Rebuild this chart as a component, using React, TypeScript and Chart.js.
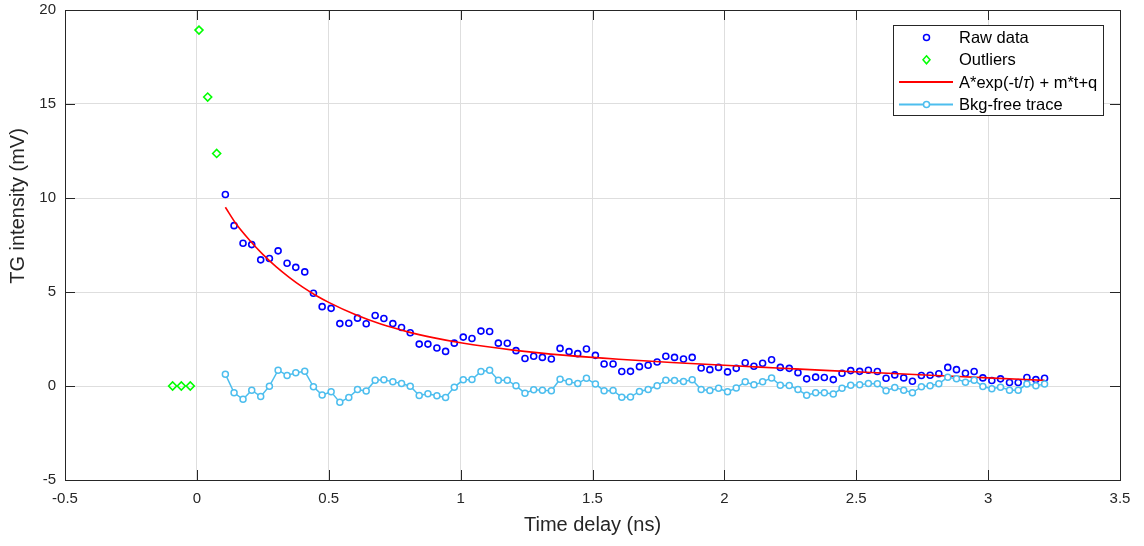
import React, { useEffect, useRef } from "react";
import { Chart, registerables } from "chart.js";

Chart.register(...registerables);

// ---------------- data ----------------
const xTickValues = [-0.5, 0, 0.5, 1, 1.5, 2, 2.5, 3, 3.5];
const yTickValues = [-5, 0, 5, 10, 15, 20];

const outlierTimes = [-0.092, -0.059, -0.025, 0.008, 0.041, 0.075];
const outlierValues = [0.0, 0.0, 0.0, 18.93, 15.37, 12.37];

const rawTimes = [
  0.108, 0.141, 0.175, 0.208, 0.242, 0.275, 0.308, 0.342, 0.375, 0.409,
  0.442, 0.475, 0.509, 0.542, 0.576, 0.609, 0.642, 0.676, 0.709, 0.743,
  0.776, 0.809, 0.843, 0.876, 0.91, 0.943, 0.976, 1.01, 1.043, 1.077,
  1.11, 1.143, 1.177, 1.21, 1.244, 1.277, 1.31, 1.344, 1.377, 1.411,
  1.444, 1.477, 1.511, 1.544, 1.578, 1.611, 1.644, 1.678, 1.711, 1.745,
  1.778, 1.811, 1.845, 1.878, 1.912, 1.945, 1.978, 2.012, 2.045, 2.079,
  2.112, 2.145, 2.179, 2.212, 2.246, 2.279, 2.312, 2.346, 2.379, 2.413,
  2.446, 2.479, 2.513, 2.546, 2.58, 2.613, 2.646, 2.68, 2.713, 2.747,
  2.78, 2.813, 2.847, 2.88, 2.914, 2.947, 2.98, 3.014, 3.047, 3.081,
  3.114, 3.147, 3.181, 3.214,
];

const rawValues = [
  10.19, 8.53, 7.59, 7.52, 6.71, 6.78, 7.19, 6.53, 6.31, 6.07,
  4.93, 4.22, 4.13, 3.32, 3.34, 3.61, 3.31, 3.75, 3.59, 3.32,
  3.11, 2.83, 2.23, 2.23, 2.02, 1.84, 2.28, 2.6, 2.53, 2.92,
  2.9, 2.28, 2.27, 1.88, 1.46, 1.58, 1.52, 1.44, 2.0, 1.83,
  1.72, 1.97, 1.63, 1.17, 1.17, 0.77, 0.78, 1.03, 1.1, 1.28,
  1.58, 1.52, 1.44, 1.52, 0.96, 0.87, 0.99, 0.75, 0.94, 1.24,
  1.05, 1.21, 1.4, 0.99, 0.94, 0.71, 0.38, 0.47, 0.45, 0.34,
  0.68, 0.82, 0.78, 0.84, 0.77, 0.41, 0.59, 0.43, 0.25, 0.56,
  0.57, 0.65, 0.99, 0.87, 0.68, 0.77, 0.43, 0.29, 0.38, 0.19,
  0.19, 0.45, 0.34, 0.41,
];

const bkgFreeValues = [
  0.63, -0.36, -0.71, -0.22, -0.56, -0.01, 0.84, 0.56, 0.7, 0.78,
  -0.04, -0.48, -0.31, -0.87, -0.61, -0.19, -0.27, 0.31, 0.33, 0.22,
  0.13, -0.01, -0.5, -0.41, -0.52, -0.61, -0.06, 0.33, 0.34, 0.77,
  0.84, 0.31, 0.31, 0.01, -0.38, -0.2, -0.22, -0.25, 0.36, 0.22,
  0.13, 0.41, 0.1, -0.25, -0.24, -0.6, -0.59, -0.29, -0.19, 0.01,
  0.31, 0.29, 0.24, 0.33, -0.19, -0.24, -0.12, -0.31, -0.1, 0.22,
  0.06, 0.22, 0.43, 0.04, 0.03, -0.19, -0.49, -0.36, -0.36, -0.42,
  -0.12, 0.04, 0.06, 0.13, 0.12, -0.25, -0.08, -0.22, -0.36, -0.04,
  0.01, 0.12, 0.47, 0.38, 0.2, 0.31, -0.03, -0.15, -0.06, -0.22,
  -0.22, 0.1, 0.01, 0.1,
];

const fitTimes = [
  0.108, 0.15, 0.2, 0.25, 0.3, 0.35, 0.4, 0.45, 0.5, 0.6, 0.7, 0.8, 0.9,
  1.0, 1.2, 1.4, 1.6, 1.8, 2.0, 2.2, 2.4, 2.6, 2.8, 3.0, 3.214,
];
const fitValues = [
  9.51, 8.6, 7.75, 7.0, 6.35, 5.78, 5.27, 4.83, 4.45, 3.8, 3.28, 2.88, 2.56,
  2.3, 1.91, 1.63, 1.42, 1.25, 1.1, 0.96, 0.82, 0.69, 0.56, 0.43, 0.3,
];

const seriesLabels = ["Raw data", "Outliers", "A*exp(-t/τ) + m*t+q", "Bkg-free trace"];
const xTitle = "Time delay (ns)";
const yTitle = "TG intensity (mV)";

// ---------------- styling ----------------
const FONT = "'Liberation Sans', Arial, Helvetica, sans-serif";
const AXIS_COLOR = "#262626";
const GRID_COLOR = "#dedede";
const TICK_LEN = 10;

const toPoints = (xs: number[], ys: number[]) => xs.map((x, i) => ({ x, y: ys[i] }));

const axesBoxPlugin = {
  id: "axesBox",
  afterDraw(chart: any) {
    const { ctx, chartArea } = chart;
    const { left, right, top, bottom } = chartArea;
    const xs = chart.scales.x;
    const ys = chart.scales.y;
    ctx.save();
    ctx.strokeStyle = AXIS_COLOR;
    ctx.lineWidth = 1;
    ctx.beginPath();
    xTickValues.forEach((v) => {
      const px = Math.round(xs.getPixelForValue(v)) + 0.5;
      ctx.moveTo(px, bottom);
      ctx.lineTo(px, bottom - TICK_LEN);
      ctx.moveTo(px, top);
      ctx.lineTo(px, top + TICK_LEN);
    });
    yTickValues.forEach((v) => {
      const py = Math.round(ys.getPixelForValue(v)) + 0.5;
      ctx.moveTo(left, py);
      ctx.lineTo(left + TICK_LEN, py);
      ctx.moveTo(right, py);
      ctx.lineTo(right - TICK_LEN, py);
    });
    ctx.stroke();
    ctx.strokeRect(Math.round(left) + 0.5, Math.round(top) + 0.5, Math.round(right - left), Math.round(bottom - top));

    // y-axis title (placed as in the reference, a little above the axis centre)
    ctx.translate(18, 206);
    ctx.rotate(-Math.PI / 2);
    ctx.fillStyle = AXIS_COLOR;
    ctx.font = `20px ${FONT}`;
    ctx.textAlign = "center";
    ctx.textBaseline = "middle";
    ctx.fillText(yTitle, 0, 0);
    ctx.restore();
  },
};

const boxLegendPlugin = {
  id: "boxLegend",
  afterDraw(chart: any) {
    const ctx = chart.ctx;
    const bx = 893.5, by = 25.5, bw = 210, bh = 90;
    ctx.save();
    ctx.fillStyle = "#ffffff";
    ctx.fillRect(bx, by, bw, bh);
    ctx.strokeStyle = AXIS_COLOR;
    ctx.lineWidth = 1;
    ctx.strokeRect(bx, by, bw, bh);
    const mx = 926.5;
    chart.data.datasets.forEach((ds: any, i: number) => {
      const cy = by + 12 + i * 22.3;
      const color = ds.borderColor;
      ctx.strokeStyle = color;
      if (ds.type === "line") {
        ctx.lineWidth = 2;
        ctx.beginPath();
        ctx.moveTo(899, cy);
        ctx.lineTo(953, cy);
        ctx.stroke();
      }
      ctx.lineWidth = 1.5;
      if (ds.pointRadius > 0) {
        if (ds.pointStyle === "rectRot") {
          ctx.beginPath();
          ctx.moveTo(mx, cy - 4);
          ctx.lineTo(mx + 3.5, cy);
          ctx.lineTo(mx, cy + 4);
          ctx.lineTo(mx - 3.5, cy);
          ctx.closePath();
          ctx.stroke();
        } else {
          ctx.beginPath();
          ctx.arc(mx, cy, 3, 0, Math.PI * 2);
          ctx.fillStyle = "#ffffff";
          ctx.fill();
          ctx.stroke();
        }
      }
      ctx.fillStyle = "#000000";
      ctx.textBaseline = "middle";
      ctx.textAlign = "left";
      const label: string = ds.label;
      let tx = 959;
      const parts = label.split(/(τ)/);
      parts.forEach((p) => {
        if (!p) return;
        ctx.font = p === "τ" ? `italic 16.5px ${FONT}` : `16.5px ${FONT}`;
        ctx.fillText(p, tx, cy + 1);
        tx += ctx.measureText(p).width;
      });
    });
    ctx.restore();
  },
};

export default function App() {
  const canvasRef = useRef<HTMLCanvasElement | null>(null);

  useEffect(() => {
    document.body.style.margin = "0";
    const canvas = canvasRef.current;
    if (!canvas) return;
    const chart = new Chart(canvas, {
      type: "scatter",
      data: {
        datasets: [
          {
            type: "scatter",
            label: seriesLabels[0],
            data: toPoints(rawTimes, rawValues),
            showLine: false,
            pointStyle: "circle",
            pointRadius: 3,
            pointBorderWidth: 1.6,
            borderColor: "#0000ff",
            backgroundColor: "rgba(255,255,255,0)",
            order: 3,
          },
          {
            type: "scatter",
            label: seriesLabels[1],
            data: toPoints(outlierTimes, outlierValues),
            showLine: false,
            pointStyle: "rectRot",
            pointRadius: 4,
            pointBorderWidth: 1.6,
            borderColor: "#00ff00",
            backgroundColor: "rgba(255,255,255,0)",
            order: 2,
          },
          {
            type: "line",
            label: seriesLabels[2],
            data: toPoints(fitTimes, fitValues),
            borderColor: "#ff0000",
            borderWidth: 1.6,
            pointRadius: 0,
            cubicInterpolationMode: "monotone",
            fill: false,
            order: 1,
          },
          {
            type: "line",
            label: seriesLabels[3],
            data: toPoints(rawTimes, bkgFreeValues),
            borderColor: "#4dbeee",
            borderWidth: 1.5,
            pointRadius: 3,
            pointStyle: "circle",
            pointBorderWidth: 1.5,
            pointBorderColor: "#4dbeee",
            pointBackgroundColor: "#ffffff",
            tension: 0,
            fill: false,
            order: 0,
          },
        ],
      } as any,
      options: {
        responsive: false,
        animation: false,
        events: [],
        layout: { padding: { top: 10, right: 24, left: 0, bottom: 0 } },
        plugins: {
          legend: { display: false },
          tooltip: { enabled: false },
          title: { display: false },
        },
        scales: {
          x: {
            type: "linear",
            min: -0.5,
            max: 3.5,
            afterBuildTicks: (s: any) => {
              s.ticks = xTickValues.map((v) => ({ value: v }));
            },
            afterFit: (s: any) => {
              s.height = 66;
              s.paddingLeft = 0;
              s.paddingRight = 0;
            },
            grid: { color: GRID_COLOR, drawTicks: false, lineWidth: 1 },
            border: { display: false },
            ticks: {
              padding: 10,
              color: AXIS_COLOR,
              font: { family: FONT, size: 15 },
              maxRotation: 0,
              callback: (v: any) => String(v),
            },
            title: {
              display: true,
              text: xTitle,
              color: AXIS_COLOR,
              font: { family: FONT, size: 20 },
              padding: { top: 0, bottom: 9 },
            },
          },
          y: {
            type: "linear",
            min: -5,
            max: 20,
            afterBuildTicks: (s: any) => {
              s.ticks = yTickValues.map((v) => ({ value: v }));
            },
            afterFit: (s: any) => {
              s.width = 65;
              s.paddingTop = 0;
              s.paddingBottom = 0;
            },
            grid: { color: GRID_COLOR, drawTicks: false, lineWidth: 1 },
            border: { display: false },
            ticks: {
              padding: 9,
              color: AXIS_COLOR,
              font: { family: FONT, size: 15 },
              callback: (v: any) => String(v),
            },
            title: { display: false },
          },
        },
      } as any,
      plugins: [axesBoxPlugin, boxLegendPlugin],
    });
    return () => chart.destroy();
  }, []);

  return (
    <div style={{ width: 1144, height: 546, background: "#ffffff" }}>
      <canvas ref={canvasRef} width={1144} height={546} style={{ display: "block" }} />
    </div>
  );
}
